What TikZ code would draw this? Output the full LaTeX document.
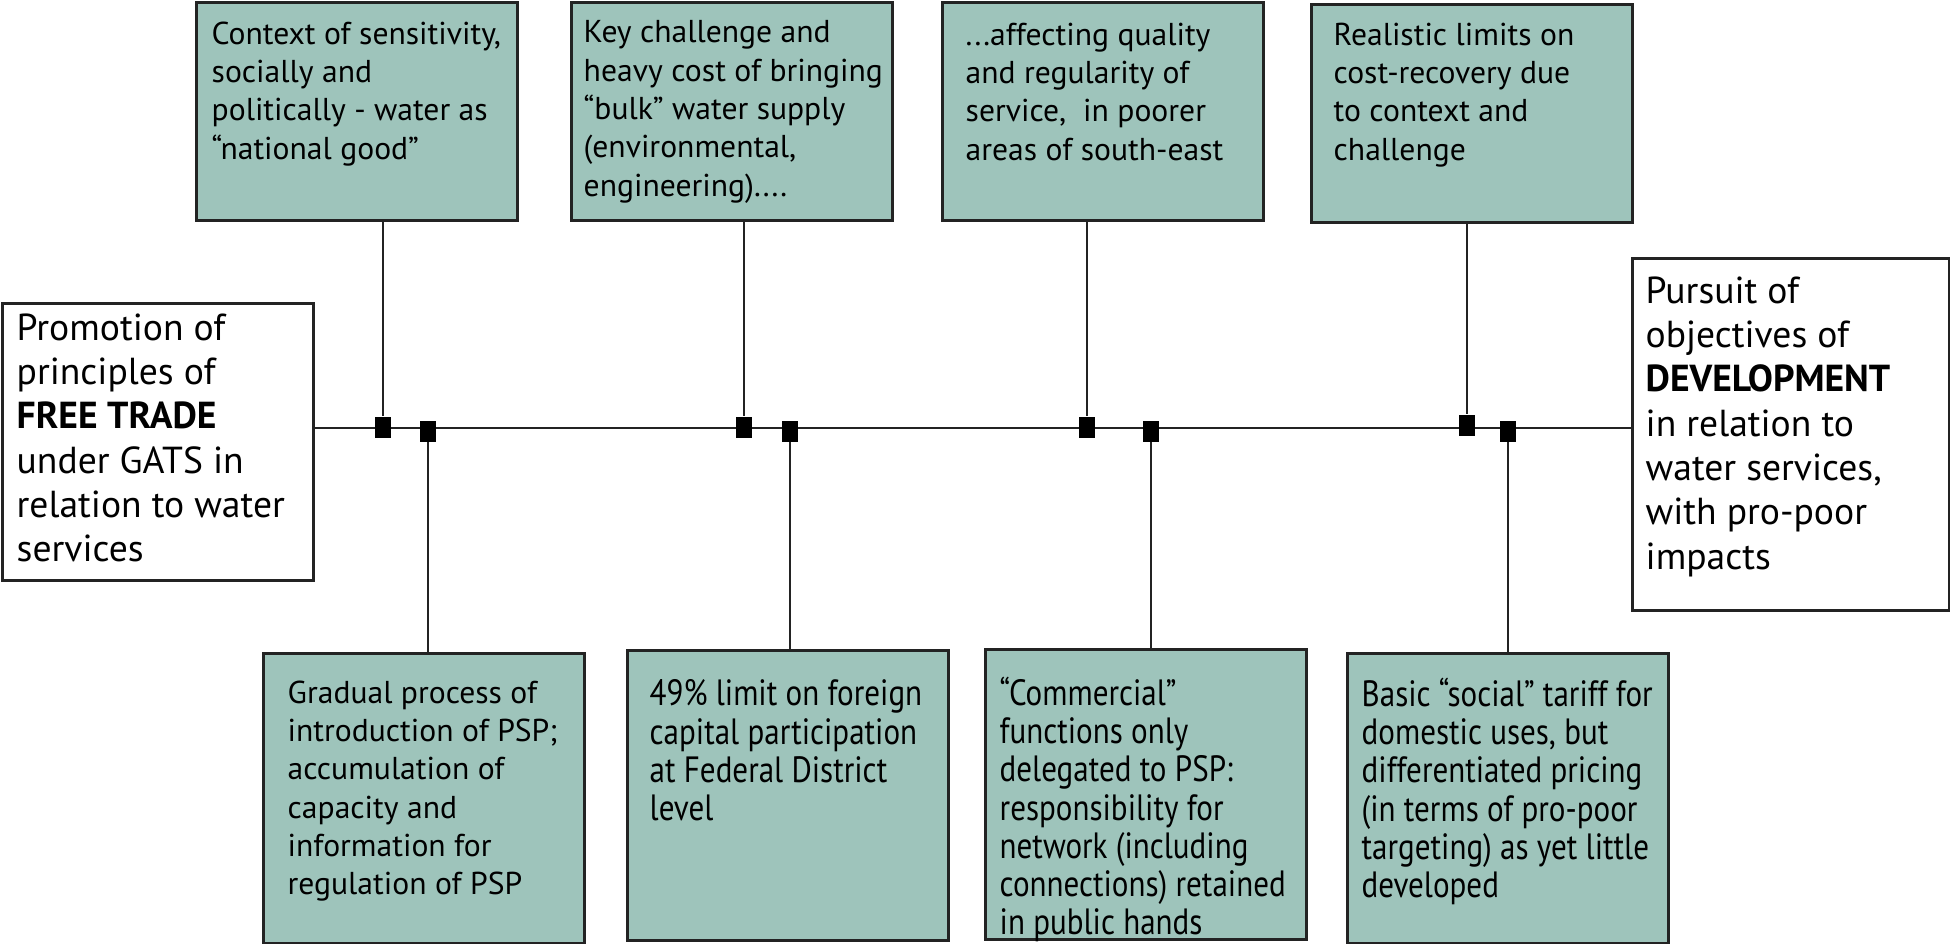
\documentclass[tikz,border=0pt]{standalone}
\usepackage{fontspec}
\setmainfont{PT Sans}
\newfontfamily\narrowsans[FakeStretch=0.85]{PT Sans}
\usetikzlibrary{positioning}

\definecolor{boxteal}{RGB}{158,196,187}
\definecolor{edgegray}{RGB}{35,35,35}

\tikzset{
  tealbox/.style={draw=edgegray, line width=0.8pt, fill=boxteal,
    minimum width=3.21cm, minimum height=2.18cm, inner sep=0pt, anchor=north west},
  lowbox/.style={tealbox, minimum height=2.9cm},
  sidebox/.style={draw=edgegray, line width=0.8pt, fill=white, inner sep=0pt, anchor=north west},
  boxtext/.style={align=left, inner sep=0pt, font=\fontsize{9.0}{10.9}\selectfont},
  narrowtext/.style={boxtext, font=\narrowsans\fontsize{10.4}{10.9}\selectfont},
  sidetext/.style={align=left, inner sep=0pt, font=\fontsize{10.7}{12.6}\selectfont},
  marker/.style={fill=black, minimum width=0.16cm, minimum height=0.21cm, inner sep=0pt},
  link/.style={draw=edgegray, line width=0.6pt},
}

\begin{document}
\begin{tikzpicture}
    \useasboundingbox (0,0) rectangle (19.5,9.43);

    % end points of the spine
    \node[sidebox, minimum width=3.11cm, minimum height=2.77cm] (gats) at (0.01,6.41) {};
    \node[sidetext, below right=0.11cm and 0.15cm of gats.north west] (gatstxt)
        {Promotion of\\principles of\\\textbf{FREE TRADE}\\under GATS in\\relation to water\\services};

    \node[sidebox, minimum width=3.17cm, minimum height=3.52cm] (dev) at (16.31,6.86) {};
    \node[sidetext, below right=0.19cm and 0.14cm of dev.north west] (devtxt)
        {Pursuit of\\objectives of\\\textbf{DEVELOPMENT}\\in relation to\\water services,\\with pro-poor\\impacts};

    % upper boxes
    \node[tealbox] (ctx) at (1.95,9.42) {};
    \node[boxtext, below right=0.2cm and 0.16cm of ctx.north west] (ctxtxt)
        {Context of sensitivity,\\socially and\\politically - water as\\“national good”};

    \node[tealbox] (bulk) at (5.70,9.42) {};
    \node[boxtext, below right=0.19cm and 0.13cm of bulk.north west] (bulktxt)
        {Key challenge and\\heavy cost of bringing\\“bulk” water supply\\(environmental,\\engineering)....};

    \node[tealbox] (quality) at (9.41,9.42) {};
    \node[boxtext, below right=0.21cm and 0.24cm of quality.north west] (qualitytxt)
        {...affecting quality\\and regularity of\\service, \ in poorer\\areas of south-east};

    \node[tealbox] (recovery) at (13.10,9.40) {};
    \node[boxtext, below right=0.19cm and 0.23cm of recovery.north west] (recoverytxt)
        {Realistic limits on\\cost-recovery due\\to context and\\challenge};

    % lower boxes
    \node[lowbox] (gradual) at (2.62,2.91) {};
    \node[boxtext, below right=0.28cm and 0.25cm of gradual.north west] (gradualtxt)
        {Gradual process of\\introduction of PSP;\\accumulation of\\capacity and\\information for\\regulation of PSP};

    \node[lowbox] (foreign) at (6.26,2.94) {};
    \node[narrowtext, below right=0.3cm and 0.23cm of foreign.north west] (foreigntxt)
        {49\% limit on foreign\\capital participation\\at Federal District\\level};

    \node[lowbox] (commercial) at (9.84,2.95) {};
    \node[narrowtext, below right=0.28cm and 0.15cm of commercial.north west] (commercialtxt)
        {“Commercial”\\functions only\\delegated to PSP:\\responsibility for\\network (including\\connections) retained\\in public hands};

    \node[lowbox] (tariff) at (13.46,2.91) {};
    \node[narrowtext, below right=0.25cm and 0.15cm of tariff.north west] (tarifftxt)
        {Basic “social” tariff for\\domestic uses, but\\differentiated pricing\\(in terms of pro-poor\\targeting) as yet little\\developed};

    % spine with its joints
    \coordinate (spine) at (0,5.15);
    \draw[link] (gats.east |- spine) -- (dev.west |- spine);

    \node[marker] (m1) at (3.83,5.16) {};
    \node[marker] (m2) at (4.28,5.12) {};
    \node[marker] (m3) at (7.44,5.16) {};
    \node[marker] (m4) at (7.90,5.12) {};
    \node[marker] (m5) at (10.87,5.16) {};
    \node[marker] (m6) at (11.51,5.12) {};
    \node[marker] (m7) at (14.67,5.18) {};
    \node[marker] (m8) at (15.08,5.12) {};

    % drops to the boxes
    \draw[link] (m1) -- (m1 |- ctx.south);
    \draw[link] (m3) -- (m3 |- bulk.south);
    \draw[link] (m5) -- (m5 |- quality.south);
    \draw[link] (m7) -- (m7 |- recovery.south);
    \draw[link] (m2) -- (m2 |- gradual.north);
    \draw[link] (m4) -- (m4 |- foreign.north);
    \draw[link] (m6) -- (m6 |- commercial.north);
    \draw[link] (m8) -- (m8 |- tariff.north);
\end{tikzpicture}
\end{document}
